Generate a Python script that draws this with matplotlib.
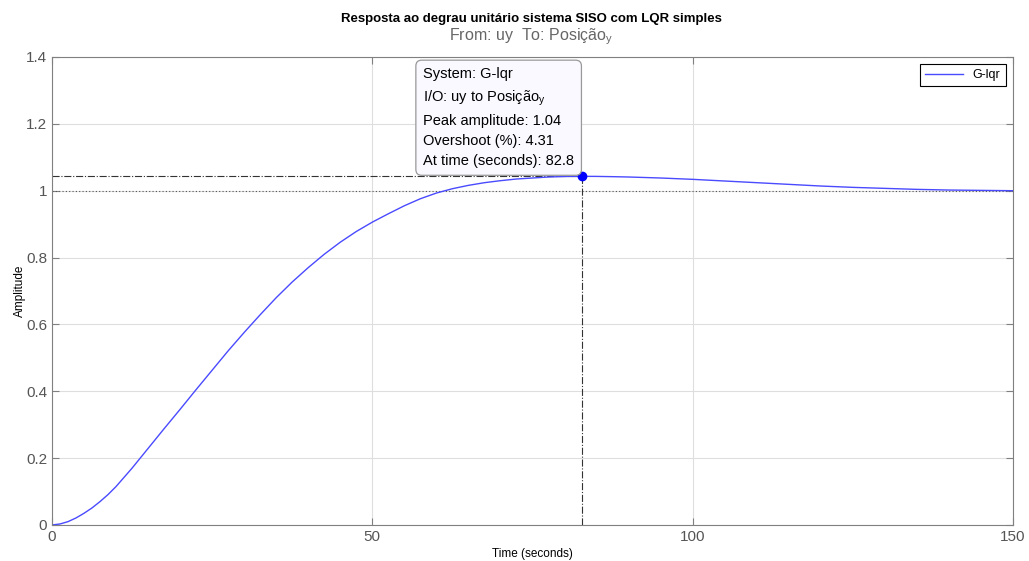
import numpy as np
import matplotlib
matplotlib.use('Agg')
import matplotlib.pyplot as plt

plt.rcParams['font.family'] = ['Liberation Sans', 'DejaVu Sans']
plt.rcParams['mathtext.default'] = 'regular'

# step response
t = [0, 1.25, 2.5, 3.75, 5, 6.25, 7.5, 8.75, 10, 12.5, 15, 17.5, 20, 22.5, 25,
     27.5, 30, 32.5, 35, 37.5, 40, 42.5, 45, 47.5, 50, 52.5, 55, 57.5, 60, 62.5,
     65, 67.5, 70, 72.5, 75, 77.5, 80, 82.8, 85, 87.5, 90, 95, 100, 105, 110,
     115, 120, 125, 130, 135, 140, 145, 150]
y = [0, 0.003, 0.010, 0.021, 0.035, 0.051, 0.070, 0.091, 0.115, 0.170, 0.229,
     0.288, 0.346, 0.405, 0.463, 0.521, 0.576, 0.629, 0.680, 0.727, 0.770, 0.810,
     0.846, 0.878, 0.906, 0.931, 0.955, 0.976, 0.993, 1.006, 1.016, 1.024, 1.030,
     1.035, 1.038, 1.041, 1.0425, 1.043, 1.0428, 1.042, 1.041, 1.038, 1.034,
     1.029, 1.024, 1.019, 1.014, 1.010, 1.007, 1.004, 1.002, 1.001, 1.0]
peak_t = 82.8
peak_y = 1.043
final_value = 1.0
tip_lines = ['System: G-lqr', 'I/O: uy to Posição$_{y}$', 'Peak amplitude: 1.04',
             'Overshoot (%): 4.31', 'At time (seconds): 82.8']

fig = plt.figure(figsize=(10.29, 5.61), dpi=100)
ax = fig.add_axes([0.0505, 0.0642, 0.934, 0.8342])

gray = '#808080'
ax.grid(True, color='#dedede', linewidth=0.8)
ax.set_axisbelow(True)

ax.axhline(final_value, color='#555555', linestyle=(0, (1, 2)), linewidth=0.8)
ax.plot([0, peak_t], [peak_y, peak_y], color='#333333', linestyle='-.', linewidth=0.8)
ax.plot([peak_t, peak_t], [0, peak_y], color='#333333', linestyle='-.', linewidth=0.8)
ax.plot(t, y, color='#4a4aff', linewidth=1.0, label='G-lqr')
ax.plot([peak_t], [peak_y], 'o', color='#0000ff', markersize=6)

ax.annotate('\n'.join(tip_lines), xy=(peak_t, peak_y), xytext=(-6, 6),
            textcoords='offset points', ha='right', va='bottom', fontsize=10.5,
            multialignment='left', linespacing=1.55,
            bbox=dict(boxstyle='round,pad=0.5,rounding_size=0.4',
                      fc='#f9f9ff', ec='#999999', lw=0.9))

ax.set_xlim(0, 150)
ax.set_ylim(0, 1.4)
ax.set_xticks([0, 50, 100, 150])
ax.set_yticks([0, 0.2, 0.4, 0.6, 0.8, 1, 1.2, 1.4])
ax.set_yticklabels(['0', '0.2', '0.4', '0.6', '0.8', '1', '1.2', '1.4'])
ax.tick_params(direction='in', colors=gray, labelcolor='#555555', labelsize=11,
               length=5, top=True, right=True)
for s in ax.spines.values():
    s.set_color(gray)

ax.set_xlabel('Time (seconds)', fontsize=8.5, labelpad=3)
ax.set_ylabel('Amplitude', fontsize=8.5, labelpad=0)

leg = ax.legend(loc='upper right', fontsize=9, fancybox=False, framealpha=1,
                edgecolor='black', handlelength=3.0, borderaxespad=0.6)
leg.get_frame().set_linewidth(0.8)

fig.text(0.5165, 0.966, 'Resposta ao degrau unitário sistema SISO com LQR simples',
         ha='center', va='center', fontsize=9.5, fontweight='bold')
fig.text(0.5165, 0.935, 'From: uy  To: Posição$_{y}$', ha='center', va='center',
         fontsize=11.5, color='#666666')

plt.savefig('out.png', dpi=100)
